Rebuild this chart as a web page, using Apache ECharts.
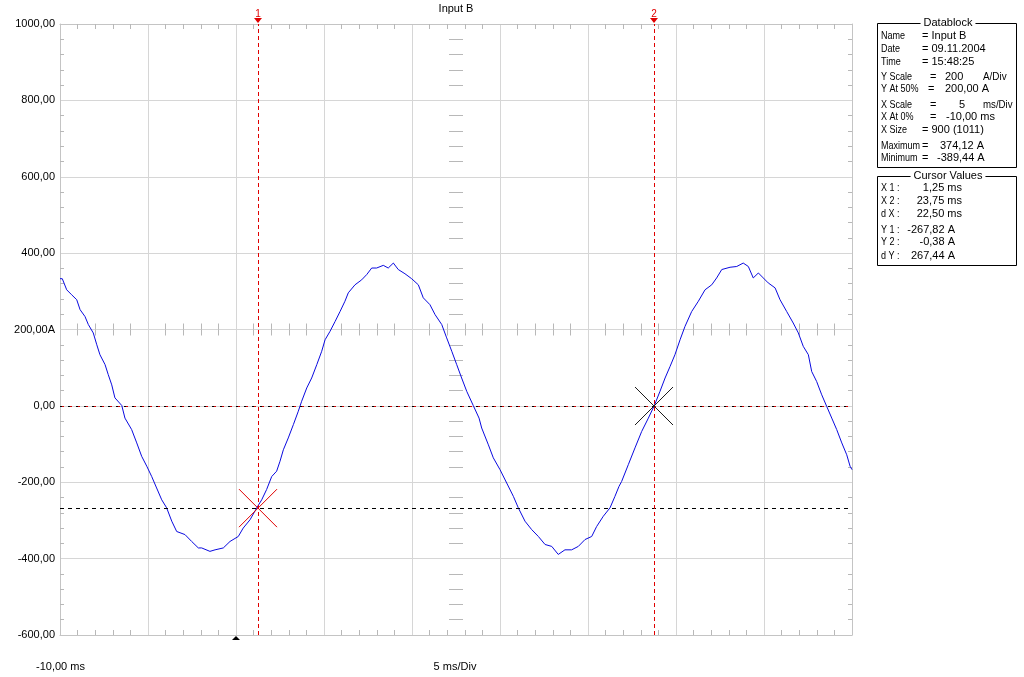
<!DOCTYPE html>
<html>
<head>
<meta charset="utf-8">
<script src="https://cdn.jsdelivr.net/npm/echarts@6/dist/echarts.min.js"></script>
<style>
html,body{margin:0;padding:0;background:#fff;}
#chart{width:1024px;height:677px;}
</style>
</head>
<body>
<div id="chart"></div>
<script>
// ---- data ----
const timeMs = [
  -10.00, -9.87, -9.62, -9.34, -9.05, -8.86, -8.58, -8.39, -8.11, -7.91,
  -7.73, -7.44, -7.26, -7.06, -6.88, -6.49, -6.31, -5.93, -5.64, -5.36,
  -5.07, -4.79, -4.51, -4.22, -3.94, -3.65, -3.37, -2.90, -2.52, -2.14,
  -1.95, -1.48, -1.19, -0.72, -0.34, 0.13, 0.41, 0.80, 1.18, 1.46,
  1.74, 2.03, 2.31, 2.50, 2.69, 2.97, 3.26, 3.54, 3.73, 4.02,
  4.30, 4.59, 4.87, 5.06, 5.34, 5.63, 5.91, 6.19, 6.38, 6.76,
  7.14, 7.43, 7.71, 7.99, 8.37, 8.65, 8.94, 9.22, 9.60, 9.98,
  10.36, 10.64, 11.02, 11.31, 11.69, 11.97, 12.26, 12.54, 12.82, 13.11,
  13.48, 13.81, 13.96, 14.34, 14.62, 15.00, 15.38, 15.76, 16.04, 16.42,
  16.80, 17.18, 17.56, 17.94, 18.31, 18.69, 19.07, 19.45, 19.83, 20.21,
  20.49, 20.87, 21.25, 21.53, 21.76, 21.91, 22.29, 22.67, 23.05, 23.43,
  23.77, 24.09, 24.38, 24.66, 24.94, 25.23, 25.51, 25.89, 26.27, 26.65,
  27.03, 27.31, 27.60, 28.07, 28.45, 28.82, 29.11, 29.39, 29.68, 29.96,
  30.24, 30.63, 30.91, 31.29, 31.66, 31.95, 32.23, 32.52, 32.71, 32.99,
  33.28, 33.56, 33.85, 34.13, 34.42, 34.70, 34.89, 35.00
];
const currentA = [
  333, 333, 304, 291, 278, 252, 234, 213, 191, 160,
  134, 108, 82, 55, 21, 1, -32, -62, -97, -132,
  -158, -185, -215, -246, -267, -302, -329, -337, -355, -372,
  -372, -381, -377, -372, -355, -342, -320, -298, -267, -246,
  -219, -185, -171, -145, -115, -84, -49, -14, 12, 47,
  73, 108, 143, 173, 195, 221, 247, 274, 296, 317,
  330, 344, 361, 361, 368, 361, 374, 357, 346, 333,
  317, 283, 265, 239, 213, 178, 143, 108, 73, 38,
  1, -32, -58, -102, -136, -167, -202, -237, -267, -302,
  -324, -342, -363, -368, -389, -377, -377, -368, -350, -342,
  -316, -289, -267, -237, -211, -198, -154, -110, -67, -32,
  1, 38, 73, 103, 134, 173, 208, 247, 274, 304,
  317, 335, 357, 363, 365, 374, 365, 335, 348, 335,
  322, 309, 278, 247, 217, 191, 156, 134, 90, 64,
  29, -1, -32, -62, -97, -128, -158, -167
];
const cursorX = [1.25, 23.75];
const cursorY = [-267.82, -0.38];
const cursorLabels = ['1', '2'];
const triggerMs = 0;
const xMin = -10, xMax = 35, xStep = 5;
const yMin = -600, yMax = 1000, yStep = 200;
const yCenter = 200;

// ---- chart ----
const FONT = '"Liberation Sans", Arial, sans-serif';
const GRID_COLOR = '#d6d6d6';
const FRAME_COLOR = '#c4c4c4';
const TICK_COLOR = '#b8b8b8';
const chart = echarts.init(document.getElementById('chart'), null, {renderer: 'canvas'});

const lineData = timeMs.map((t, i) => [t, currentA[i]]);

function txt(x, y, text, align, sx) {
  return {type: 'text', x: x, y: y, scaleX: sx || 1, silent: true,
    style: {text: text, fill: '#000', font: '11px ' + FONT, align: align || 'left', verticalAlign: 'middle'}};
}
function lab(x, y, text) { return txt(x, y, text, 'left', 0.82); }

const blockLeft = 877.5, blockW = 139;
const graphics = [
  txt(456, 9, 'Input B', 'center'),
  txt(36, 667, '-10,00 ms'),
  txt(455, 667, '5 ms/Div', 'center'),
  {type: 'rect', shape: {x: blockLeft, y: 23.5, width: blockW, height: 144}, style: {fill: 'none', stroke: '#000', lineWidth: 1}},
  {type: 'text', x: 948, y: 23, style: {text: 'Datablock', fill: '#000', font: '11px ' + FONT, align: 'center', verticalAlign: 'middle', backgroundColor: '#fff', padding: [0, 3]}},
  lab(881, 36, 'Name'), txt(922, 36, '= Input B'),
  lab(881, 49, 'Date'), txt(922, 49, '= 09.11.2004'),
  lab(881, 62, 'Time'), txt(922, 62, '= 15:48:25'),
  lab(881, 77, 'Y Scale'), txt(930, 77, '='), txt(945, 77, '200'), txt(983, 77, 'A/Div', 'left', 0.9),
  lab(881, 89, 'Y At 50%'), txt(928, 89, '='), txt(945, 89, '200,00 A'),
  lab(881, 105, 'X Scale'), txt(930, 105, '='), txt(959, 105, '5'), txt(983, 105, 'ms/Div', 'left', 0.88),
  lab(881, 117, 'X At 0%'), txt(930, 117, '='), txt(946, 117, '-10,00 ms'),
  lab(881, 130, 'X Size'), txt(922, 130, '= 900 (1011)'),
  lab(881, 146, 'Maximum'), txt(922, 146, '='), txt(940, 146, '374,12 A'),
  lab(881, 158, 'Minimum'), txt(922, 158, '='), txt(937, 158, '-389,44 A'),
  {type: 'rect', shape: {x: blockLeft, y: 176.5, width: blockW, height: 89}, style: {fill: 'none', stroke: '#000', lineWidth: 1}},
  {type: 'text', x: 948, y: 176, style: {text: 'Cursor Values', fill: '#000', font: '11px ' + FONT, align: 'center', verticalAlign: 'middle', backgroundColor: '#fff', padding: [0, 3]}},
  lab(881, 188, 'X 1 :'), txt(962, 188, '1,25 ms', 'right'),
  lab(881, 201, 'X 2 :'), txt(962, 201, '23,75 ms', 'right'),
  lab(881, 214, 'd X :'), txt(962, 214, '22,50 ms', 'right'),
  lab(881, 230, 'Y 1 :'), txt(955, 230, '-267,82 A', 'right'),
  lab(881, 242, 'Y 2 :'), txt(955, 242, '-0,38 A', 'right'),
  lab(881, 256, 'd Y :'), txt(955, 256, '267,44 A', 'right')
];

function xAxisBase(extra) {
  return Object.assign({
    type: 'value', min: xMin, max: xMax, interval: xStep,
    axisLabel: {show: false},
    axisTick: {show: false, inside: true},
    splitLine: {show: false},
    minorTick: {show: true, splitNumber: 5, length: 5, lineStyle: {color: TICK_COLOR}},
    axisPointer: {show: false}
  }, extra);
}
function yAxisBase(extra) {
  return Object.assign({
    type: 'value', min: yMin, max: yMax, interval: yStep,
    axisLabel: {show: false},
    axisTick: {show: false, inside: true},
    splitLine: {show: false},
    minorTick: {show: true, splitNumber: 5, length: 4, lineStyle: {color: TICK_COLOR}},
    axisPointer: {show: false}
  }, extra);
}

const centerOffsetY = -(635 - 329.5);
const centerOffsetX = -396;
const frameLine = {show: true, onZero: false, lineStyle: {color: FRAME_COLOR}};
const hiddenLine = {show: false, onZero: false};

const option = {
  animation: false,
  backgroundColor: '#fff',
  grid: {left: 60, top: 24, right: 172, bottom: 42, containLabel: false},
  xAxis: [
    xAxisBase({position: 'bottom', axisLine: frameLine,
      splitLine: {show: true, lineStyle: {color: GRID_COLOR, width: 1}}}),
    xAxisBase({position: 'top', axisLine: frameLine}),
    xAxisBase({position: 'bottom', offset: centerOffsetY, axisLine: hiddenLine, axisTick: {show: false, inside: true},
      minorTick: {show: true, splitNumber: 5, length: 6, lineStyle: {color: TICK_COLOR}}}),
    xAxisBase({position: 'bottom', offset: centerOffsetY, axisLine: hiddenLine, axisTick: {show: false, inside: false},
      minorTick: {show: true, splitNumber: 5, length: 6, lineStyle: {color: TICK_COLOR}}})
  ],
  yAxis: [
    yAxisBase({position: 'left', axisLine: frameLine,
      splitLine: {show: true, lineStyle: {color: GRID_COLOR, width: 1}},
      axisLabel: {show: true, color: '#000', fontSize: 11, fontFamily: FONT, margin: 5,
        formatter: v => v.toFixed(2).replace('.', ',') + (v === yCenter ? 'A' : '')}}),
    yAxisBase({position: 'right', axisLine: frameLine}),
    yAxisBase({position: 'left', offset: centerOffsetX, axisLine: hiddenLine, axisTick: {show: false, inside: true},
      minorTick: {show: true, splitNumber: 5, length: 7, lineStyle: {color: TICK_COLOR}}}),
    yAxisBase({position: 'left', offset: centerOffsetX, axisLine: hiddenLine, axisTick: {show: false, inside: false},
      minorTick: {show: true, splitNumber: 5, length: 7, lineStyle: {color: TICK_COLOR}}})
  ],
  graphic: graphics,
  series: [
    {
      type: 'line', xAxisIndex: 0, yAxisIndex: 0,
      data: lineData, showSymbol: false, symbol: 'none', smooth: false,
      lineStyle: {color: '#0a0ae0', width: 1},
      z: 3, silent: true,
      markLine: {
        silent: true, symbol: ['none', 'none'], label: {show: false},
        data: [
          {yAxis: cursorY[0], lineStyle: {color: '#000', type: [4, 4], width: 1}},
          {yAxis: cursorY[1], lineStyle: {color: '#000', type: [4, 4], width: 1}},
          {yAxis: cursorY[1], lineStyle: {color: '#d00000', type: [2, 6], dashOffset: 6, width: 1}},
          {xAxis: cursorX[0], lineStyle: {color: '#e00000', type: [4, 3], width: 1}},
          {xAxis: cursorX[1], lineStyle: {color: '#e00000', type: [4, 3], width: 1}}
        ]
      }
    },
    {
      type: 'custom', xAxisIndex: 0, yAxisIndex: 0, silent: true, z: 5,
      data: cursorX.map((x, i) => [x, cursorY[i]]),
      renderItem: function (params, api) {
        const p = api.coord([api.value(0), api.value(1)]);
        const r = 19;
        const col = params.dataIndex === 0 ? '#e00000' : '#1a1a1a';
        return {type: 'group', children: [
          {type: 'line', shape: {x1: p[0] - r, y1: p[1] - r, x2: p[0] + r, y2: p[1] + r}, style: {stroke: col, lineWidth: 1}},
          {type: 'line', shape: {x1: p[0] - r, y1: p[1] + r, x2: p[0] + r, y2: p[1] - r}, style: {stroke: col, lineWidth: 1}}
        ]};
      }
    },
    {
      type: 'custom', xAxisIndex: 0, yAxisIndex: 0, silent: true, z: 6,
      data: cursorX.map(x => [x, yMax]),
      renderItem: function (params, api) {
        const p = api.coord([api.value(0), api.value(1)]);
        return {type: 'group', children: [
          {type: 'polygon', shape: {points: [[p[0] - 4, p[1] - 6], [p[0] + 4, p[1] - 6], [p[0], p[1] - 1]]}, style: {fill: '#e00000'}},
          {type: 'text', style: {text: cursorLabels[params.dataIndex], x: p[0], y: p[1] - 10, align: 'center', verticalAlign: 'middle', fill: '#e00000', font: '10px ' + FONT}}
        ]};
      }
    },
    {
      type: 'custom', xAxisIndex: 0, yAxisIndex: 0, silent: true, z: 6,
      data: [[triggerMs, yMin]],
      renderItem: function (params, api) {
        const p = api.coord([api.value(0), api.value(1)]);
        return {type: 'polygon', shape: {points: [[p[0] - 4, p[1] + 5], [p[0] + 4, p[1] + 5], [p[0], p[1] + 1]]}, style: {fill: '#000'}};
      }
    }
  ]
};
chart.setOption(option);
</script>
</body>
</html>
